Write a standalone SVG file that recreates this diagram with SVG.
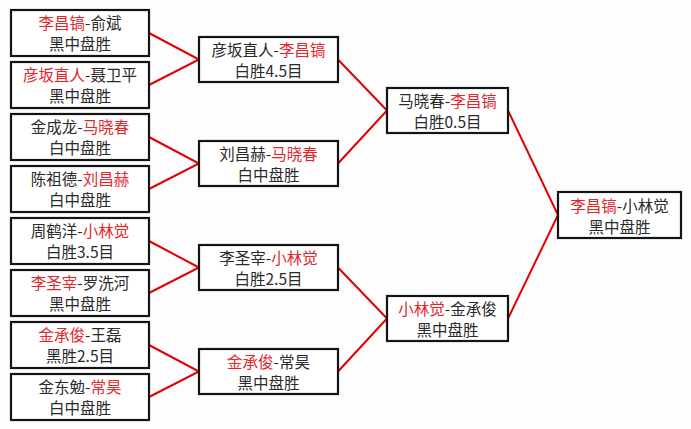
<svg xmlns="http://www.w3.org/2000/svg" width="691" height="429" viewBox="0 0 691 429">
<style>
.bg{fill:#fdfdfd}
.box{fill:#ffffff;stroke:#141414;stroke-width:2.2}
.t{font-family:"Noto Sans CJK SC","Noto Sans",sans-serif;font-size:15.5px;fill:#2a2a2a;text-anchor:middle}
.r{fill:#e3262b}
.ln{stroke:#e00000;stroke-width:2;fill:none}
</style>
<rect class="bg" x="0" y="0" width="691" height="429"/>
<g id="connectors">
<polyline class="ln" points="149,33 199,59.5 149,85"/>
<polyline class="ln" points="149,137 199,163.5 149,189"/>
<polyline class="ln" points="149,241 199,267.5 149,293"/>
<polyline class="ln" points="149,345 199,371.5 149,397"/>
<polyline class="ln" points="338,59.5 387,110.5 338,163.5"/>
<polyline class="ln" points="338,267.5 387,318.5 338,371.5"/>
<polyline class="ln" points="508,110.5 558,215 508,318.5"/>
</g>
<g id="r1m1"><rect class="box" x="11" y="10" width="138" height="46"/><text class="t" x="80" y="29"><tspan class="r">李昌镐</tspan>-俞斌</text><text class="t" x="80" y="50">黑中盘胜</text></g>
<g id="r1m2"><rect class="box" x="11" y="62" width="138" height="46"/><text class="t" x="80" y="81"><tspan class="r">彦坂直人</tspan>-聂卫平</text><text class="t" x="80" y="102">黑中盘胜</text></g>
<g id="r1m3"><rect class="box" x="11" y="114" width="138" height="46"/><text class="t" x="80" y="133">金成龙-<tspan class="r">马晓春</tspan></text><text class="t" x="80" y="154">白中盘胜</text></g>
<g id="r1m4"><rect class="box" x="11" y="166" width="138" height="46"/><text class="t" x="80" y="185">陈祖德-<tspan class="r">刘昌赫</tspan></text><text class="t" x="80" y="206">白中盘胜</text></g>
<g id="r1m5"><rect class="box" x="11" y="218" width="138" height="46"/><text class="t" x="80" y="237">周鹤洋-<tspan class="r">小林觉</tspan></text><text class="t" x="80" y="258">白胜3.5目</text></g>
<g id="r1m6"><rect class="box" x="11" y="270" width="138" height="46"/><text class="t" x="80" y="289"><tspan class="r">李圣宰</tspan>-罗洗河</text><text class="t" x="80" y="310">黑中盘胜</text></g>
<g id="r1m7"><rect class="box" x="11" y="322" width="138" height="46"/><text class="t" x="80" y="341"><tspan class="r">金承俊</tspan>-王磊</text><text class="t" x="80" y="362">黑胜2.5目</text></g>
<g id="r1m8"><rect class="box" x="11" y="374" width="138" height="46"/><text class="t" x="80" y="393">金东勉-<tspan class="r">常昊</tspan></text><text class="t" x="80" y="414">白中盘胜</text></g>
<g id="r2m1"><rect class="box" x="199" y="37" width="139" height="45"/><text class="t" x="268.5" y="56">彦坂直人-<tspan class="r">李昌镐</tspan></text><text class="t" x="268.5" y="77">白胜4.5目</text></g>
<g id="r2m2"><rect class="box" x="199" y="141" width="139" height="45"/><text class="t" x="268.5" y="160">刘昌赫-<tspan class="r">马晓春</tspan></text><text class="t" x="268.5" y="181">白中盘胜</text></g>
<g id="r2m3"><rect class="box" x="199" y="245" width="139" height="45"/><text class="t" x="268.5" y="264">李圣宰-<tspan class="r">小林觉</tspan></text><text class="t" x="268.5" y="285">白胜2.5目</text></g>
<g id="r2m4"><rect class="box" x="199" y="349" width="139" height="45"/><text class="t" x="268.5" y="368"><tspan class="r">金承俊</tspan>-常昊</text><text class="t" x="268.5" y="389">黑中盘胜</text></g>
<g id="r3m1"><rect class="box" x="387" y="88" width="121" height="45"/><text class="t" x="447.5" y="107">马晓春-<tspan class="r">李昌镐</tspan></text><text class="t" x="447.5" y="128">白胜0.5目</text></g>
<g id="r3m2"><rect class="box" x="387" y="296" width="121" height="45"/><text class="t" x="447.5" y="315"><tspan class="r">小林觉</tspan>-金承俊</text><text class="t" x="447.5" y="336">黑中盘胜</text></g>
<g id="final"><rect class="box" x="558" y="192" width="123" height="46"/><text class="t" x="619.5" y="212"><tspan class="r">李昌镐</tspan>-小林觉</text><text class="t" x="619.5" y="233">黑中盘胜</text></g>
</svg>
